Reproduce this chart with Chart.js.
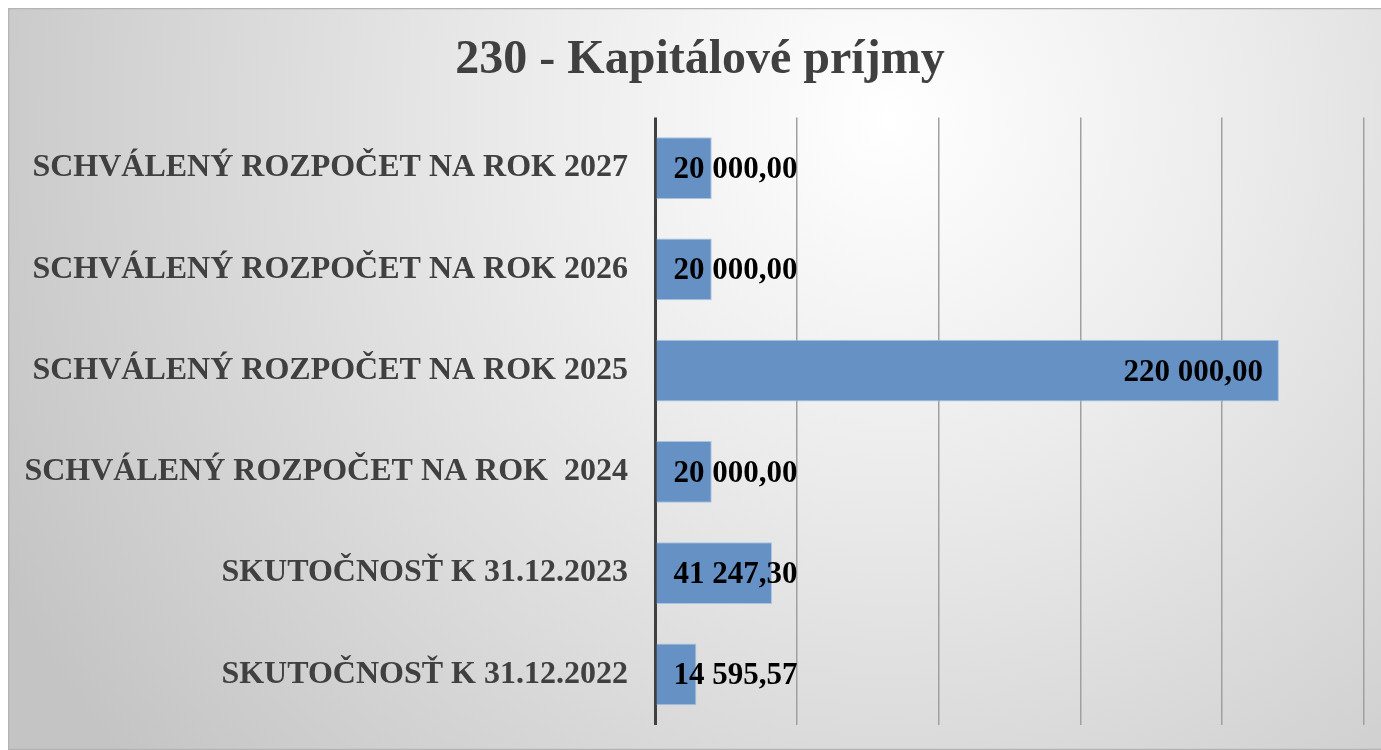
<!DOCTYPE html>
<html lang="sk">

<head>
    <meta charset="UTF-8">
    <title>230 - Kapitálové príjmy</title>
    <script src="https://cdn.jsdelivr.net/npm/chart.js"></script>
    <style>
        html, body {
            margin: 0;
            padding: 0;
            background: #ffffff;
            overflow: hidden;
        }
        .frame {
            position: absolute;
            left: 8px;
            top: 8px;
            width: 1384px;
            height: 742px;
        }
    </style>
</head>

<body>
    <div class="frame">
        <canvas id="barChart"></canvas>
    </div>

    <script>
        // Data (bottom to top)
        const categories = [
            'SKUTOČNOSŤ K 31.12.2022',
            'SKUTOČNOSŤ K 31.12.2023',
            'SCHVÁLENÝ ROZPOČET NA ROK  2024',
            'SCHVÁLENÝ ROZPOČET NA ROK 2025',
            'SCHVÁLENÝ ROZPOČET NA ROK 2026',
            'SCHVÁLENÝ ROZPOČET NA ROK 2027'
        ];
        const values = [14595.57, 41247.30, 20000, 220000, 20000, 20000];
        const axisMax = 250000;
        const axisStep = 50000;

        const serif = '"Liberation Serif", "Times New Roman", serif';

        function formatValue(v) {
            const parts = v.toFixed(2).split('.');
            return parts[0].replace(/\B(?=(\d{3})+(?!\d))/g, ' ') + ',' + parts[1];
        }

        // gradient background + thin frame
        const backgroundPlugin = {
            id: 'background',
            beforeDraw(chart) {
                const { ctx, width, height } = chart;
                ctx.save();
                const g = ctx.createRadialGradient(880, 110, 0, 880, 110, 1000);
                g.addColorStop(0, '#ffffff');
                g.addColorStop(0.35, '#ececec');
                g.addColorStop(1, '#c4c4c4');
                ctx.fillStyle = g;
                ctx.fillRect(0, 0, width, height);
                ctx.strokeStyle = '#b4b4b4';
                ctx.lineWidth = 1.5;
                ctx.strokeRect(0.5, 0.5, width - 1, height - 1);
                ctx.restore();
            }
        };

        // value labels: inside the end, or from the base when they do not fit
        const valueLabels = {
            id: 'valueLabels',
            afterDatasetsDraw(chart) {
                const { ctx } = chart;
                const meta = chart.getDatasetMeta(0);
                ctx.save();
                ctx.font = 'bold 31px ' + serif;
                ctx.fillStyle = '#000000';
                ctx.textBaseline = 'middle';
                meta.data.forEach((bar, i) => {
                    const text = formatValue(values[i]);
                    const w = ctx.measureText(text).width;
                    const barWidth = bar.x - bar.base;
                    if (w + 34 <= barWidth) {
                        ctx.textAlign = 'right';
                        ctx.fillText(text, bar.x - 16, bar.y + 2);
                    } else {
                        ctx.textAlign = 'left';
                        ctx.fillText(text, bar.base + 17, bar.y + 2);
                    }
                });
                ctx.restore();
            }
        };

        window.onload = () => {
            const ctx = document.getElementById('barChart').getContext('2d');
            new Chart(ctx, {
                type: 'bar',
                data: {
                    labels: categories,
                    datasets: [{
                        data: values,
                        backgroundColor: '#6591c5',
                        borderColor: '#a9c3e3',
                        borderWidth: 1,
                        barPercentage: 0.61,
                        categoryPercentage: 1
                    }]
                },
                options: {
                    indexAxis: 'y',
                    responsive: true,
                    maintainAspectRatio: false,
                    animation: false,
                    layout: {
                        padding: { left: 0, right: 0, top: 0, bottom: 25 }
                    },
                    plugins: {
                        legend: { display: false },
                        tooltip: { enabled: false },
                        title: {
                            display: true,
                            text: '230 - Kapitálové príjmy',
                            color: '#404040',
                            font: { family: serif, size: 48, weight: 'bold', lineHeight: 1.2 },
                            padding: { top: 24, bottom: 28 }
                        }
                    },
                    scales: {
                        x: {
                            min: 0,
                            max: axisMax,
                            ticks: { display: false, stepSize: axisStep },
                            border: { display: false },
                            grid: {
                                drawTicks: false,
                                color: c => c.tick && c.tick.value === 0 ? '#404040' : '#a0a0a0',
                                lineWidth: c => c.tick && c.tick.value === 0 ? 3 : 1.5
                            }
                        },
                        y: {
                            reverse: true,
                            border: { display: false },
                            grid: { display: false, drawTicks: false },
                            ticks: {
                                color: '#404040',
                                padding: 27,
                                font: { family: serif, size: 32, weight: 'bold' }
                            },
                            afterFit(scale) {
                                scale.width = 647;
                                scale.paddingTop = 0;
                                scale.paddingBottom = 0;
                            }
                        },
                        // empty right-hand spacer so the title stays centred on the frame
                        spacer: {
                            type: 'linear',
                            position: 'right',
                            display: true,
                            ticks: { display: false },
                            grid: { display: false, drawTicks: false },
                            border: { display: false },
                            afterFit(scale) {
                                scale.width = 28;
                                scale.paddingTop = 0;
                                scale.paddingBottom = 0;
                            }
                        }
                    }
                },
                plugins: [backgroundPlugin, valueLabels]
            });
        };
    </script>
</body>

</html>
